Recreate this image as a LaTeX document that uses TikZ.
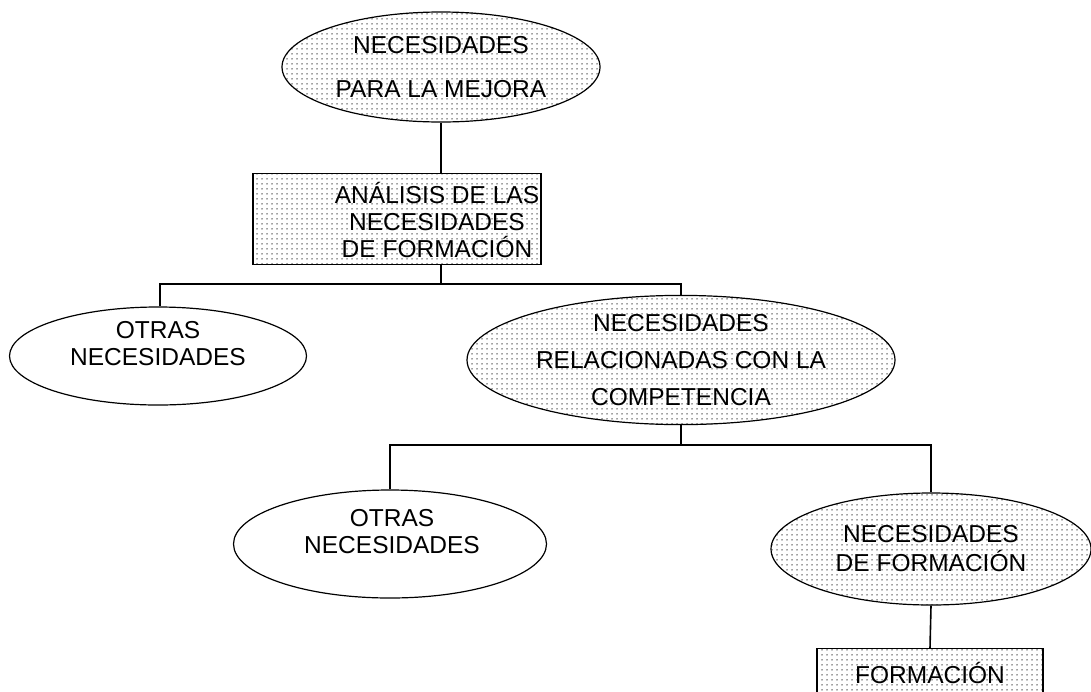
\documentclass[tikz,border=0pt]{standalone}
\usepackage{fontspec}
\setmainfont{Liberation Sans}
\usetikzlibrary{shapes.geometric,patterns}
\pgfdeclarepatternformonly{sdots}{\pgfpointorigin}{\pgfpoint{5pt}{5pt}}{\pgfpoint{5pt}{5pt}}{\pgfpathcircle{\pgfpoint{2.5pt}{2.5pt}}{0.9pt}\pgfusepath{fill}}
\tikzset{
  lbl/.style={font=\fontsize{24.5}{27}\selectfont, align=center, inner sep=0pt},
  ell/.style={lbl, ellipse, draw, line width=1.2pt},
  dotted fill/.style={pattern=sdots, pattern color=black!75},
  boxnode/.style={lbl, rectangle, draw, line width=1.2pt},
  conn/.style={line width=1.6pt}
}
\begin{document}
\begin{tikzpicture}[x=1pt,y=-1pt]
\clip (0,0) rectangle (1091,691);
\fill[white] (0,0) rectangle (1091,691);
% nodes
\node[ell, dotted fill, minimum width=318, minimum height=110] (mejora) at (441,67)
  {NECESIDADES\\[17pt]PARA LA MEJORA};
\node[boxnode, dotted fill, minimum width=288, minimum height=91] (analisis) at (397,219) {};
\node[lbl] (analisistxt) at (437,220) {ANÁLISIS DE LAS\\NECESIDADES\\DE FORMACIÓN};
\node[ell, fill=white, minimum width=297, minimum height=98] (otras1) at (158,356) {};
\node[lbl] (otras1txt) at (158,344) {OTRAS\\NECESIDADES};
\node[ell, dotted fill, minimum width=428, minimum height=124] (relac) at (681,360)
  {NECESIDADES\\[10pt]RELACIONADAS CON LA\\[10pt]COMPETENCIA};
\node[ell, fill=white, minimum width=313, minimum height=108] (otras2) at (390,544) {};
\node[lbl] (otras2txt) at (392,532) {OTRAS\\NECESIDADES};
\node[ell, dotted fill, minimum width=320, minimum height=112] (necform) at (931,549)
  {NECESIDADES\\[2pt]DE FORMACIÓN};
\node[boxnode, dotted fill, minimum width=226, minimum height=60, anchor=north] (formacion) at (930,648) {};
\node[lbl] (formaciontxt) at (930,673) {FORMACIÓN};
% junctions
\coordinate (j1) at (441,284);
\coordinate (j2) at (681,445);
% connectors
\draw[conn] (mejora.south) -- (mejora.south |- analisis.north);
\draw[conn] (mejora.south |- analisis.south) -- (j1);
\draw[conn] (otras1.north -| 160,0) |- (j1) -| (relac.north);
\draw[conn] (relac.south) -- (j2);
\draw[conn] (otras2.north) |- (j2) -| (necform.north);
\draw[conn] (necform.south) -- (formacion.north);
\end{tikzpicture}
\end{document}
